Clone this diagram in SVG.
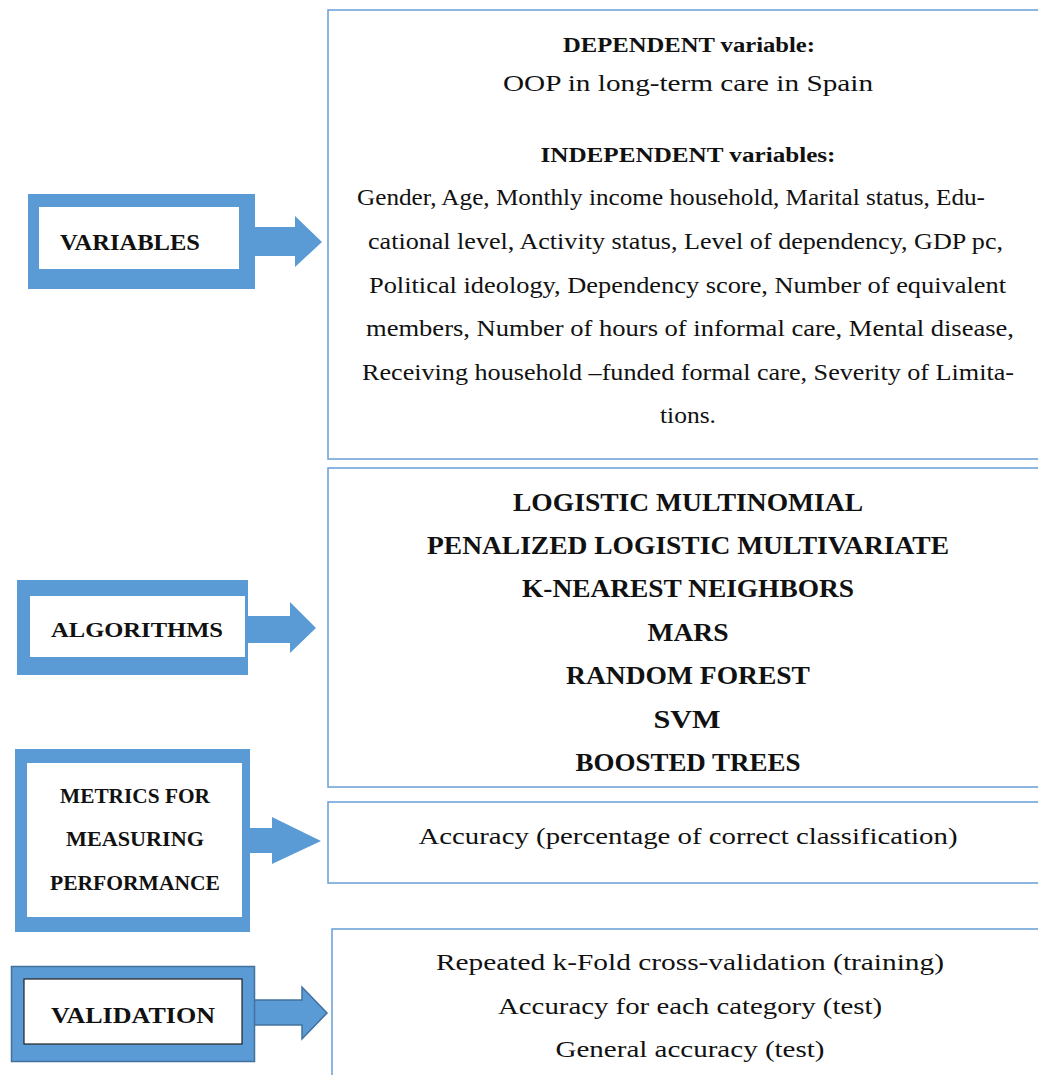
<svg xmlns="http://www.w3.org/2000/svg" width="1038" height="1075" viewBox="0 0 1038 1075">
<style>
.bg{fill:#ffffff}
.panel{fill:#ffffff;stroke:#6FA4DB;stroke-width:1.6}
.frame{fill:#5B9BD5}
.inner{fill:#ffffff}
.arrow{fill:#5B9BD5}
.dark{stroke:#41719C;stroke-width:1.5}
.lbl{font-family:"Liberation Serif","Times New Roman",serif;font-weight:bold;fill:#111;text-anchor:middle}
.head{font-family:"Liberation Serif","Times New Roman",serif;font-weight:bold;font-size:20px;fill:#111;text-anchor:middle}
.body{font-family:"Liberation Serif","Times New Roman",serif;font-size:24px;fill:#111}
.alg{font-family:"Liberation Serif","Times New Roman",serif;font-weight:bold;font-size:26px;fill:#111;text-anchor:middle}
</style>
<rect class="bg" x="0" y="0" width="1038" height="1075"/>

<g id="panel-variables">
<rect class="panel" x="328" y="10" width="760" height="449"/>
<text class="head" x="689" y="52" textLength="252" lengthAdjust="spacingAndGlyphs">DEPENDENT variable:</text>
<text class="body" x="688" y="91" text-anchor="middle" textLength="370" lengthAdjust="spacingAndGlyphs">OOP in long-term care in Spain</text>
<text class="head" x="688" y="162" textLength="295" lengthAdjust="spacingAndGlyphs">INDEPENDENT variables:</text>
<text class="body" x="357" y="205" textLength="628" lengthAdjust="spacingAndGlyphs">Gender, Age, Monthly income household, Marital status, Edu-</text>
<text class="body" x="368" y="249" textLength="635" lengthAdjust="spacingAndGlyphs">cational level, Activity status, Level of dependency, GDP pc,</text>
<text class="body" x="369" y="293" textLength="637" lengthAdjust="spacingAndGlyphs">Political ideology, Dependency score, Number of equivalent</text>
<text class="body" x="366" y="336" textLength="648" lengthAdjust="spacingAndGlyphs">members, Number of hours of informal care, Mental disease,</text>
<text class="body" x="362" y="380" textLength="652" lengthAdjust="spacingAndGlyphs">Receiving household –funded formal care, Severity of Limita-</text>
<text class="body" x="660" y="423" textLength="56" lengthAdjust="spacingAndGlyphs">tions.</text>
</g>

<g id="panel-algorithms">
<rect class="panel" x="328" y="468" width="760" height="319"/>
<text class="alg" x="688" y="511" textLength="350" lengthAdjust="spacingAndGlyphs">LOGISTIC MULTINOMIAL</text>
<text class="alg" x="688" y="554" textLength="522" lengthAdjust="spacingAndGlyphs">PENALIZED LOGISTIC MULTIVARIATE</text>
<text class="alg" x="688" y="597" textLength="332" lengthAdjust="spacingAndGlyphs">K-NEAREST NEIGHBORS</text>
<text class="alg" x="688" y="641" textLength="81" lengthAdjust="spacingAndGlyphs">MARS</text>
<text class="alg" x="688" y="684" textLength="244" lengthAdjust="spacingAndGlyphs">RANDOM FOREST</text>
<text class="alg" x="687" y="728" textLength="67" lengthAdjust="spacingAndGlyphs">SVM</text>
<text class="alg" x="688" y="771" textLength="225" lengthAdjust="spacingAndGlyphs">BOOSTED TREES</text>
</g>

<g id="panel-metrics">
<rect class="panel" x="328" y="802" width="760" height="81"/>
<text class="body" x="688" y="844" text-anchor="middle" textLength="539" lengthAdjust="spacingAndGlyphs">Accuracy (percentage of correct classification)</text>
</g>

<g id="panel-validation">
<rect class="panel" x="332" y="929" width="760" height="200"/>
<text class="body" x="690" y="970" text-anchor="middle" textLength="508" lengthAdjust="spacingAndGlyphs">Repeated k-Fold cross-validation (training)</text>
<text class="body" x="690" y="1014" text-anchor="middle" textLength="384" lengthAdjust="spacingAndGlyphs">Accuracy for each category (test)</text>
<text class="body" x="690" y="1057" text-anchor="middle" textLength="269" lengthAdjust="spacingAndGlyphs">General accuracy (test)</text>
</g>

<g id="connectors">
<polygon class="arrow" points="250,227 295,227 295,216 322,242 295,267 295,256 250,256"/>
<polygon class="arrow" points="244,616 290,616 290,602 316,628 290,653 290,643 244,643"/>
<polygon class="arrow" points="246,828 272,828 272,817 321,841 272,864 272,853 246,853"/>
<polygon class="arrow dark" points="250,1000 302,1000 302,987 327,1013 302,1039 302,1025 250,1025"/>
</g>

<g id="node-variables">
<rect class="frame" x="28" y="194" width="227" height="95"/>
<rect class="inner" x="39" y="207" width="200" height="62"/>
<text class="lbl" x="130" y="250" font-size="23" textLength="140" lengthAdjust="spacingAndGlyphs">VARIABLES</text>
</g>

<g id="node-algorithms">
<rect class="frame" x="17" y="580" width="231" height="95"/>
<rect class="inner" x="30" y="596" width="215" height="61"/>
<text class="lbl" x="137" y="637" font-size="22" textLength="172" lengthAdjust="spacingAndGlyphs">ALGORITHMS</text>
</g>

<g id="node-metrics">
<rect class="frame" x="15" y="749" width="235" height="183"/>
<rect class="inner" x="27" y="763" width="215" height="154"/>
<text class="lbl" x="135" y="803" font-size="20" textLength="150" lengthAdjust="spacingAndGlyphs">METRICS FOR</text>
<text class="lbl" x="135" y="846" font-size="20" textLength="138" lengthAdjust="spacingAndGlyphs">MEASURING</text>
<text class="lbl" x="135" y="890" font-size="20" textLength="170" lengthAdjust="spacingAndGlyphs">PERFORMANCE</text>
</g>

<g id="node-validation">
<rect class="frame dark" x="11.5" y="966.5" width="243" height="95"/>
<rect class="inner" x="24" y="979" width="218" height="65" stroke="#222" stroke-width="1.2"/>
<text class="lbl" x="133" y="1023" font-size="24" textLength="164" lengthAdjust="spacingAndGlyphs">VALIDATION</text>
</g>
</svg>
